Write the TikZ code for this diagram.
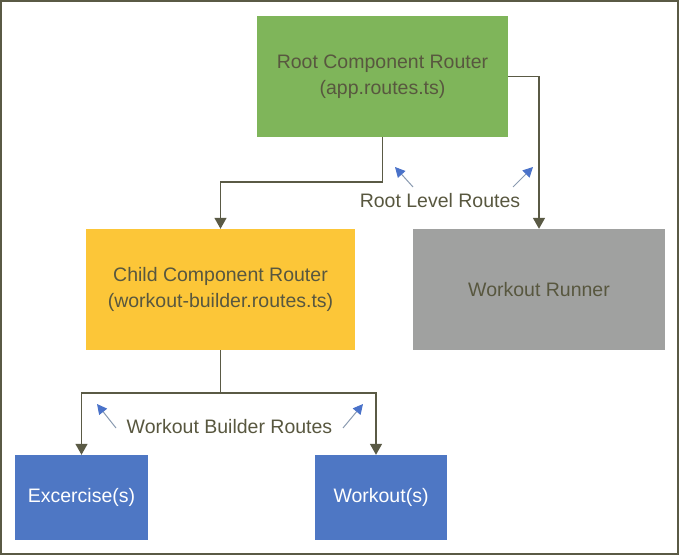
\documentclass[tikz,border=0pt]{standalone}
\usepackage{fontspec}
\setmainfont{Liberation Sans}
\usetikzlibrary{arrows.meta}
\definecolor{linegray}{HTML}{5A5A45}
\definecolor{textgray}{HTML}{58573F}
\definecolor{rootgreen}{HTML}{7FB55A}
\definecolor{childyellow}{HTML}{FCC638}
\definecolor{runnergray}{HTML}{A0A1A0}
\definecolor{leafblue}{HTML}{4E77C4}
\definecolor{tipblue}{HTML}{4A72C9}
\definecolor{stemblue}{HTML}{8A9AB0}
\tikzstyle{routebox}=[inner sep=0pt, align=center, text=textgray, font=\fontsize{19.5}{26}\selectfont]
\tikzstyle{leafbox}=[routebox, fill=leafblue, text=white, minimum width=133pt, minimum height=85pt]
\tikzstyle{link}=[draw=linegray, line width=1.5pt, -{Triangle[width=12pt,length=11pt]}]
\tikzstyle{pointer}=[draw=stemblue, line width=1pt, -{Triangle[width=10pt,length=10pt,color=tipblue]}]
\tikzstyle{routelabel}=[text=textgray, font=\fontsize{19.5}{26}\selectfont]

\begin{document}
\begin{tikzpicture}[x=1pt, y=-1pt]
\useasboundingbox (0,0) rectangle (680,556);
% Frame
    \draw[linegray, line width=1.5pt] (1,1) rectangle (678,554);
% Routers
    \node[routebox, fill=rootgreen, minimum width=251pt, minimum height=121pt] (root) at (382.5,76.5) {Root Component Router\\(app.routes.ts)};
    \node[routebox, fill=childyellow, minimum width=269pt, minimum height=121pt] (child) at (220.5,289.5) {Child Component Router\\(workout-builder.routes.ts)};
    \node[routebox, fill=runnergray, minimum width=252pt, minimum height=121pt] (runner) at (539,289.5) {Workout Runner};
% Leaves
    \node[leafbox] (excercise) at (81.5,497.5) {Excercise(s)};
    \node[leafbox, minimum width=132pt] (workouts) at (381,497.5) {Workout(s)};
% Routes
    \coordinate (rootsplit) at (382.5,182);
    \coordinate (childsplit) at (220.5,393);
    \draw[link] (root.south) -- (rootsplit) -| (child.north);
    \draw[link] (root.east) -| (runner.north);
    \draw[link] (child.south) -- (childsplit) -| (excercise.north);
    \draw[link] (childsplit) -| ([xshift=-5pt]workouts.north);
% Labels
    \node[routelabel] (rootlbl) at (440,201) {Root Level Routes};
    \node[routelabel] (builderlbl) at (229.5,427) {Workout Builder Routes};
    \foreach \tx/\ty/\hx/\hy in {413/187/395/167, 513/187/533/167, 116/428/97/404, 343/428/363/404}
        \draw[pointer] (\tx,\ty) -- (\hx,\hy);
\end{tikzpicture}
\end{document}
